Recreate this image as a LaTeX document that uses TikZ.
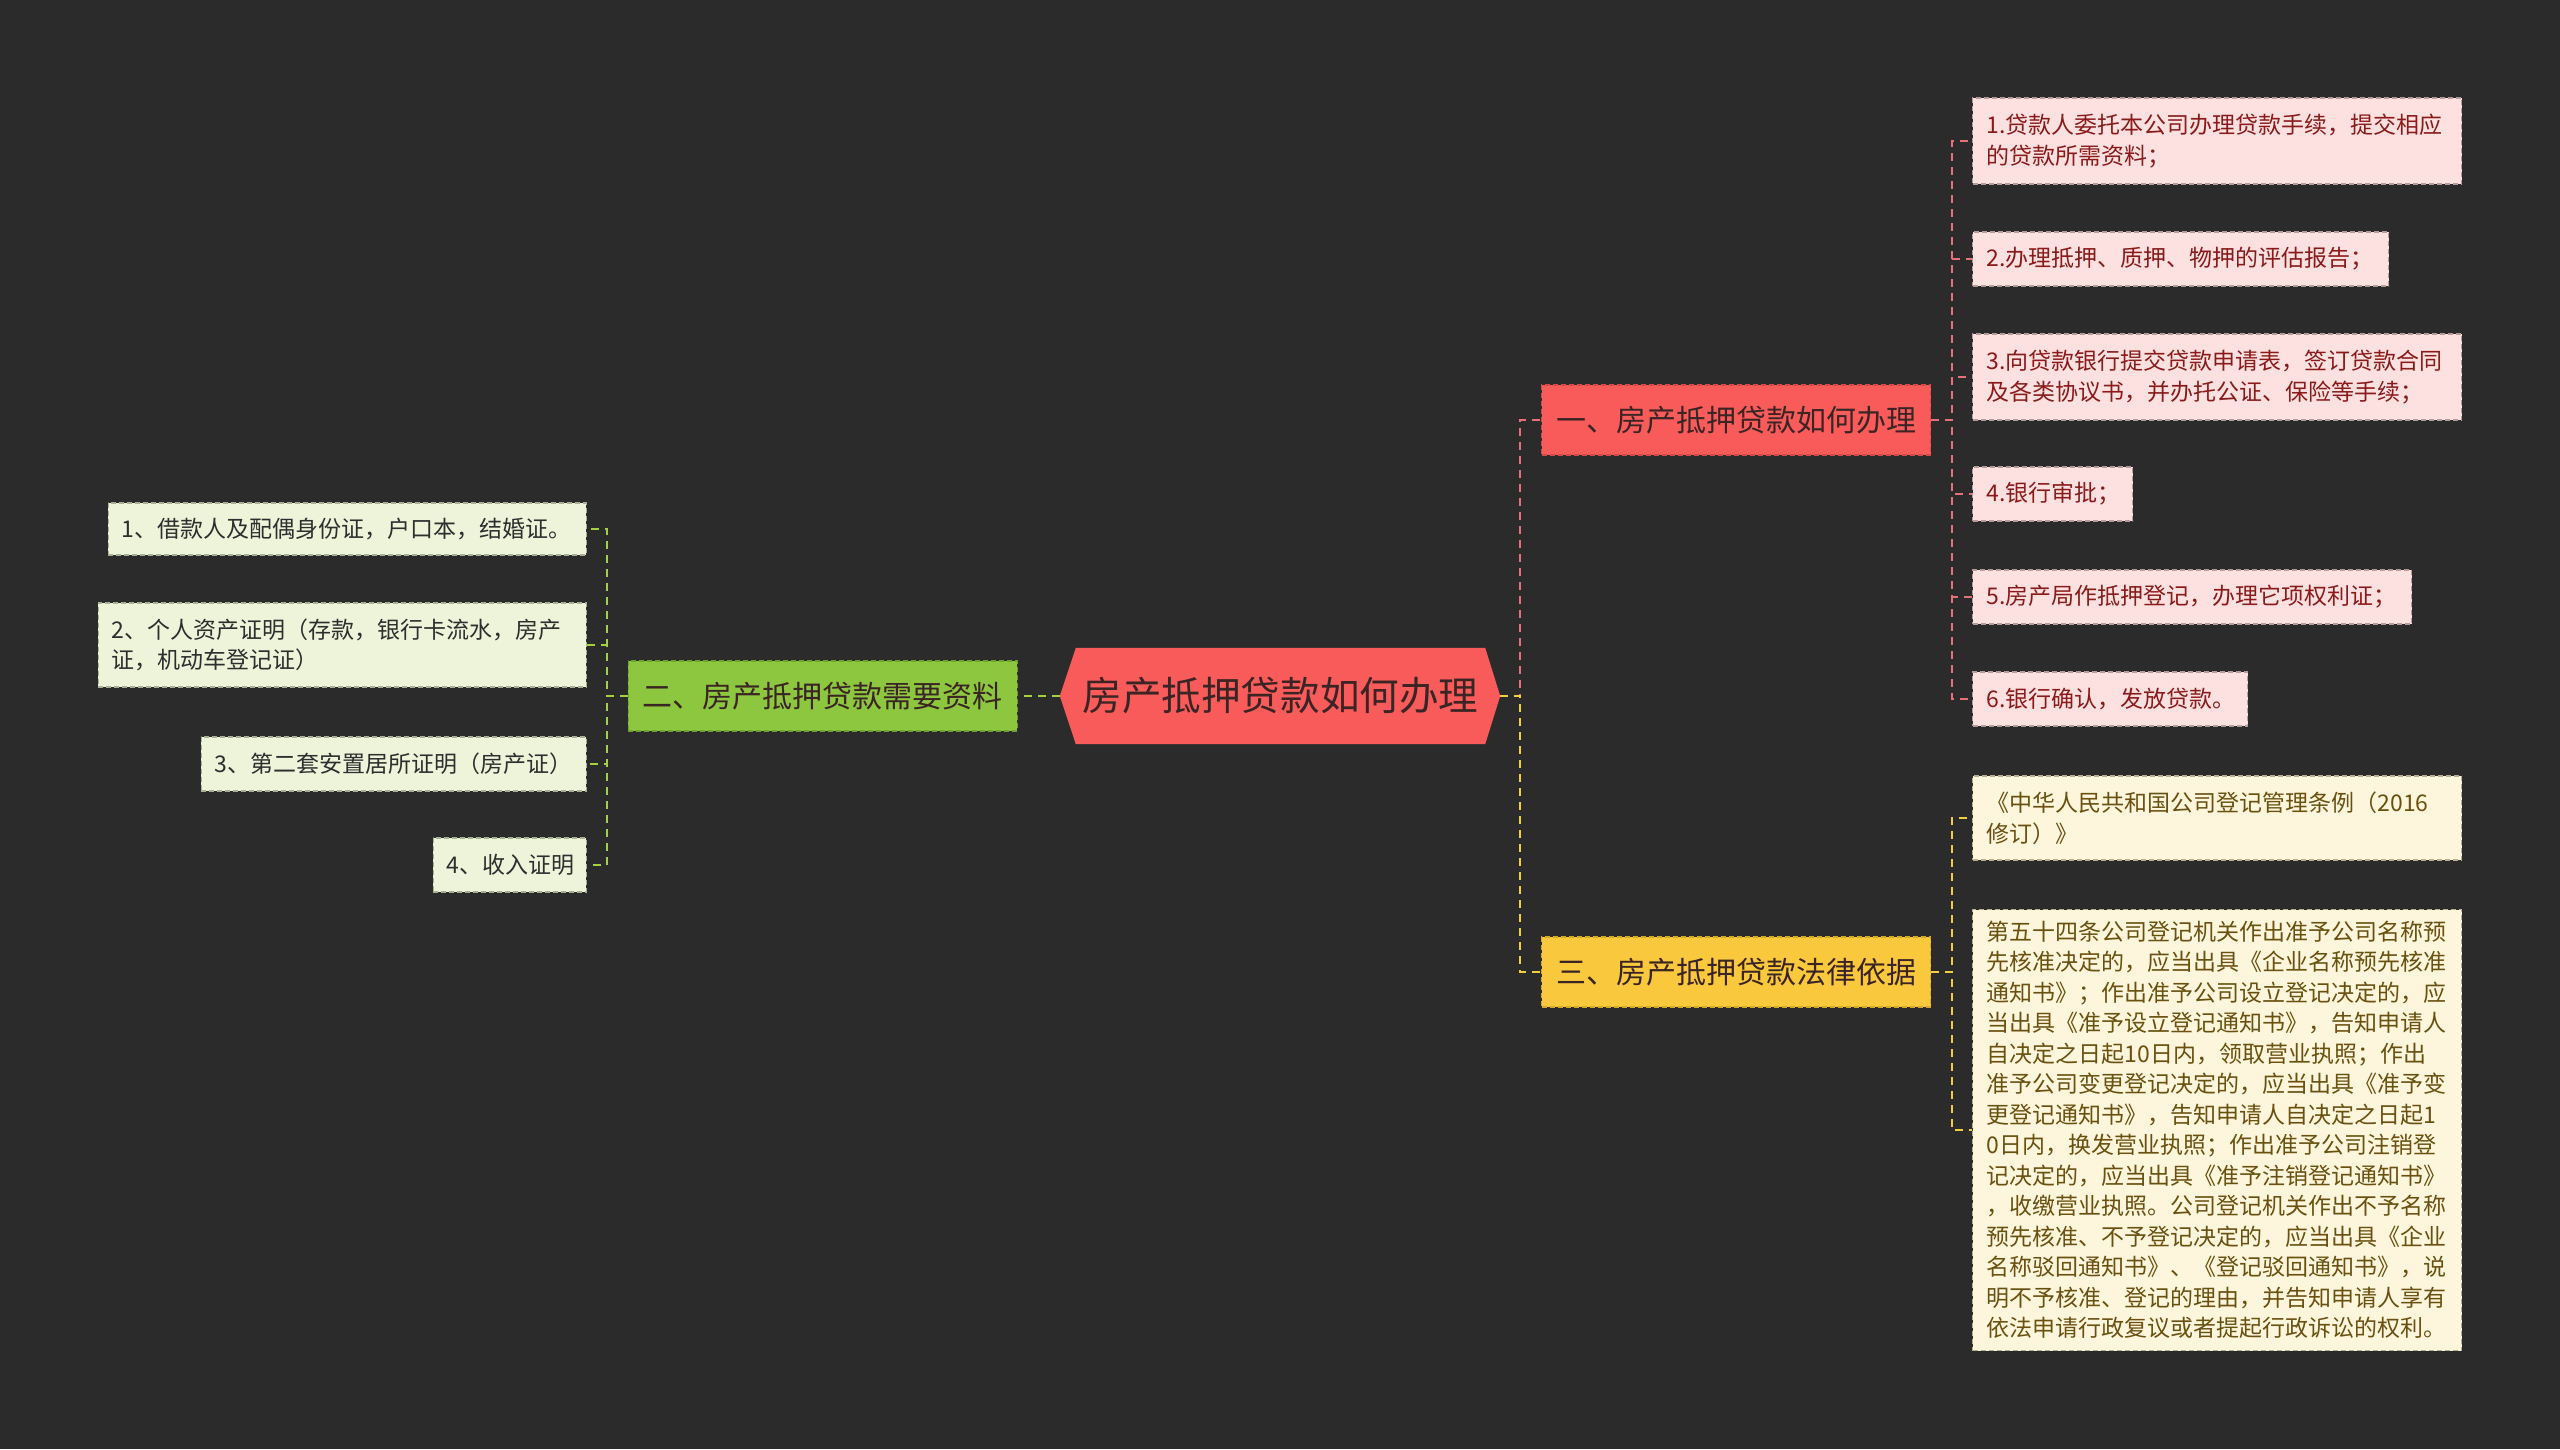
\documentclass[tikz,border=0pt]{standalone}
\usepackage{fontspec}
\setmainfont{Noto Sans CJK SC}
\usetikzlibrary{calc,backgrounds}
\definecolor{bgc}{HTML}{2B2B2B}
\definecolor{cfill}{HTML}{F95B5B}
\definecolor{ctext}{HTML}{3A2424}
\definecolor{rfill}{HTML}{F95B5B}
\definecolor{rborder}{HTML}{D84848}
\definecolor{gfill}{HTML}{8DC63F}
\definecolor{gborder}{HTML}{6EA52A}
\definecolor{yfill}{HTML}{FAC83C}
\definecolor{yborder}{HTML}{D8A828}
\definecolor{rleaf}{HTML}{FDE1E1}
\definecolor{rleafb}{HTML}{B89A9A}
\definecolor{rleaft}{HTML}{8B1A1A}
\definecolor{gleaf}{HTML}{EDF4DA}
\definecolor{gleafb}{HTML}{A8B096}
\definecolor{gleaft}{HTML}{2E2E2E}
\definecolor{yleaf}{HTML}{FDF6DC}
\definecolor{yleafb}{HTML}{B8AE90}
\definecolor{yleaft}{HTML}{6B5010}
\definecolor{redc}{HTML}{E8707A}
\definecolor{greenc}{HTML}{A5D23C}
\definecolor{yellowc}{HTML}{F2CF3C}
\tikzset{
  x=1pt, y=-1pt,
  conn/.style={line width=2pt, dash pattern=on 8pt off 6pt},
  rconn/.style={conn, draw=redc},
  gconn/.style={conn, draw=greenc},
  yconn/.style={conn, draw=yellowc},
  branch/.style={minimum width=389pt, minimum height=70pt, inner sep=0pt, anchor=west,
    line width=1.2pt, dash pattern=on 5pt off 3pt, font=\fontsize{30}{36}\selectfont},
  leaf/.style={inner xsep=14pt, inner ysep=0pt, align=left, line width=1.1pt,
    dash pattern=on 5pt off 3pt, font=\fontsize{23}{30.5}\selectfont},
  rleafs/.style={leaf, fill=rleaf, draw=rleafb, text=rleaft, anchor=west},
  yleafs/.style={leaf, fill=yleaf, draw=yleafb, text=yleaft, anchor=west},
  gleafs/.style={leaf, inner xsep=13pt, fill=gleaf, draw=gleafb, text=gleaft, anchor=east},
}
\begin{document}
\begin{tikzpicture}
\begin{pgfonlayer}{background}
\fill[bgc] (0,0) rectangle (2560,1449);
\end{pgfonlayer}
\useasboundingbox (0,0) rectangle (2560,1449);

% central
\node (c) at (1280.5,696) [minimum width=409pt, minimum height=96pt, inner sep=0pt,
  text=ctext, font=\fontsize{39.6}{44}\selectfont] {房产抵押贷款如何办理};
\coordinate (cE) at ($(c.east)+(15,0)$);
\coordinate (cW) at ($(c.west)+(-16,0)$);
\begin{pgfonlayer}{background}
\fill[cfill] (c.north west) -- (c.north east) -- (cE) -- (c.south east) -- (c.south west) -- (cW) -- cycle;
\end{pgfonlayer}

% branches
\node[branch, fill=rfill, draw=rborder, text=ctext] (b1) at (1541,420) {一、房产抵押贷款如何办理};
\node[branch, fill=yfill, draw=yborder, text=ctext] (b3) at (1541,972) {三、房产抵押贷款法律依据};
\node[branch, fill=gfill, draw=gborder, text=ctext, anchor=east] (b2) at (1018,696) {二、房产抵押贷款需要资料};

% right red leaves
\node[rleafs, text width=461pt, minimum height=86pt] (r1) at (1972,141) {1.贷款人委托本公司办理贷款手续，提交相应\\的贷款所需资料；};
\node[rleafs, text width=388pt, minimum height=54pt] (r2) at (1972,259) {2.办理抵押、质押、物押的评估报告；};
\node[rleafs, text width=461pt, minimum height=86pt] (r3) at (1972,377) {3.向贷款银行提交贷款申请表，签订贷款合同\\及各类协议书，并办托公证、保险等手续；};
\node[rleafs, text width=132pt, minimum height=54pt] (r4) at (1972,494) {4.银行审批；};
\node[rleafs, text width=411pt, minimum height=54pt] (r5) at (1972,597) {5.房产局作抵押登记，办理它项权利证；};
\node[rleafs, text width=247pt, minimum height=54pt] (r6) at (1972,699) {6.银行确认，发放贷款。};

% right yellow leaves
\node[yleafs, text width=461pt, minimum height=84pt] (y1) at (1972,818) {《中华人民共和国公司登记管理条例（2016\\修订）》};
\node[yleafs, text width=461pt, minimum height=441pt] (y2) at (1972,1130) {第五十四条公司登记机关作出准予公司名称预\\先核准决定的，应当出具《企业名称预先核准\\通知书》；作出准予公司设立登记决定的，应\\当出具《准予设立登记通知书》，告知申请人\\自决定之日起10日内，领取营业执照；作出\\准予公司变更登记决定的，应当出具《准予变\\更登记通知书》，告知申请人自决定之日起1\\0日内，换发营业执照；作出准予公司注销登\\记决定的，应当出具《准予注销登记通知书》\\，收缴营业执照。公司登记机关作出不予名称\\预先核准、不予登记决定的，应当出具《企业\\名称驳回通知书》、《登记驳回通知书》，说\\明不予核准、登记的理由，并告知申请人享有\\依法申请行政复议或者提起行政诉讼的权利。};

% left green leaves
\node[gleafs, text width=452pt, minimum height=52pt] (l1) at (587,529) {1、借款人及配偶身份证，户口本，结婚证。};
\node[gleafs, text width=462pt, minimum height=84pt] (l2) at (587,645) {2、个人资产证明（存款，银行卡流水，房产\\证，机动车登记证）};
\node[gleafs, text width=359pt, minimum height=54pt] (l3) at (587,764) {3、第二套安置居所证明（房产证）};
\node[gleafs, text width=127pt, minimum height=54pt] (l4) at (587,865) {4、收入证明};

% connectors: center to branches
\draw[rconn] (cE) -- ++(20,0) |- (b1.west);
\draw[yconn] (cE) -- ++(20,0) |- (b3.west);
\draw[gconn] (cW) -- (b2.east);

% branch to leaves
\foreach \n in {r1,r2,r3,r4,r5,r6} \draw[rconn] (b1.east) -- ++(21,0) |- (\n.west);
\foreach \n in {y1,y2} \draw[yconn] (b3.east) -- ++(21,0) |- (\n.west);
\foreach \n in {l1,l2,l3,l4} \draw[gconn] (b2.west) -- ++(-21,0) |- (\n.east);
\end{tikzpicture}
\end{document}
